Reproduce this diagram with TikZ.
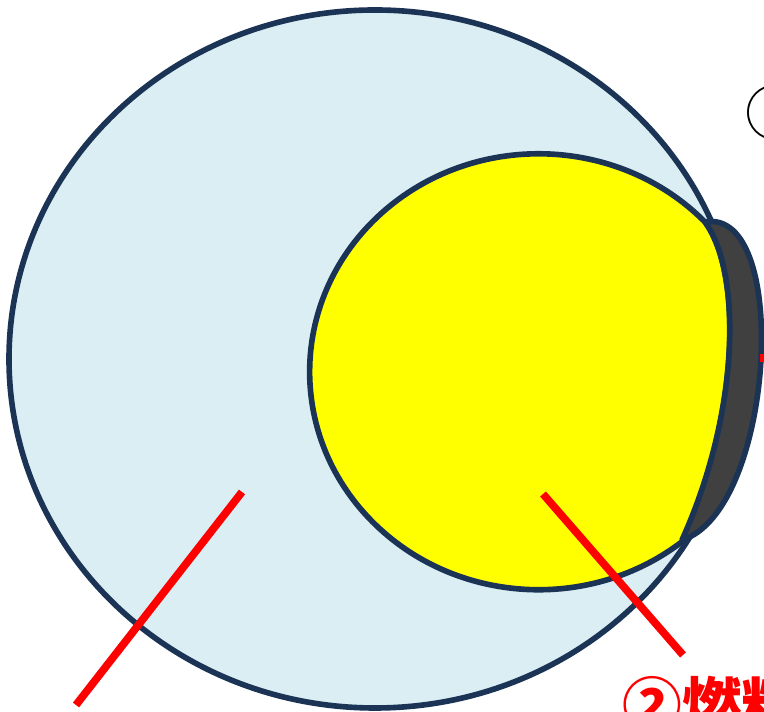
\documentclass[tikz,border=0pt]{standalone}
\usepackage{fontspec}
\newfontfamily\cjk{Noto Sans CJK JP}
\definecolor{eyeblue}{RGB}{218,238,243}
\definecolor{rimnavy}{RGB}{27,52,86}
\definecolor{lensgrey}{RGB}{64,64,64}
\definecolor{bodyyellow}{RGB}{255,255,0}
\definecolor{leaderred}{RGB}{255,0,0}
\tikzset{
  rim/.style={draw=rimnavy, line width=3.2pt, line join=round},
  leader/.style={draw=leaderred, line width=4.4pt},
}
\begin{document}
\begin{tikzpicture}[x=0.02cm, y=0.02cm]
  % frame of the picture (764 x 712)
  \useasboundingbox (0,0) rectangle (764,712);
  \clip (0,0) rectangle (764,712);

  % outer ball
  \path[rim, fill=eyeblue] (375,353) ellipse [x radius=366, y radius=349];

  % inner yellow body, cut off by the lens on the right
  \coordinate (lensT) at (705,490);
  \coordinate (lensB) at (682,172);
  \path[rim, fill=bodyyellow] (lensT) arc [start angle=43.4, end angle=309.2, x radius=229, y radius=218]
    .. controls (740,300) and (742,440) .. (lensT) -- cycle;

  % dark lens
  \path[rim, fill=lensgrey] (lensT) .. controls (742,440) and (740,300) .. (lensB)
    .. controls (774,200) and (792,505) .. (lensT) -- cycle;

  % leader lines
  \coordinate (p1) at (242,220);
  \coordinate (q1) at (76,7);
  \coordinate (p2) at (543,218);
  \coordinate (q2) at (683,57);
  \coordinate (p3) at (760,354);
  \coordinate (q3) at (800,354);
  \draw[leader] (p1) -- (q1);
  \draw[leader] (p2) -- (q2);
  \draw[leader] (p3) -- (q3);

  % labels (cut by the frame)
  \node[anchor=base west, inner sep=0pt, text=leaderred, font=\cjk\bfseries\fontsize{34}{34}\selectfont] (label2) at (622,-16) {②燃料};
  \node[anchor=base west, inner sep=0pt, text=black, font=\cjk\fontsize{34}{34}\selectfont] (label1) at (745,576) {①};
\end{tikzpicture}
\end{document}
